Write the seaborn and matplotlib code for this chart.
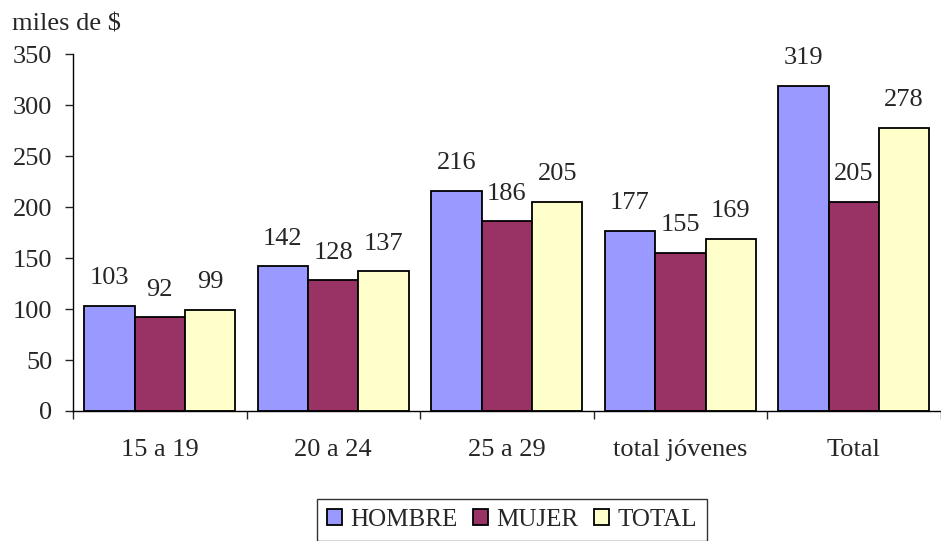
import matplotlib
matplotlib.use("Agg")
import matplotlib.pyplot as plt
import seaborn as sns
import pandas as pd
import numpy as np

categories = ["15 a 19", "20 a 24", "25 a 29", "total jóvenes", "Total"]
hombre = [103, 142, 216, 177, 319]
mujer = [92, 128, 186, 155, 205]
total = [99, 137, 205, 169, 278]
series = ["HOMBRE", "MUJER", "TOTAL"]
colors = ["#9999FF", "#993366", "#FFFFCC"]

df = pd.DataFrame({
    "cat": categories * 3,
    "serie": [s for s in series for _ in categories],
    "val": hombre + mujer + total,
})

sns.set_style("white")
plt.rcParams["font.family"] = ["Liberation Serif", "DejaVu Serif"]

fig = plt.figure(figsize=(9.41, 5.41), dpi=100)
ax = fig.add_axes([0.0776, 0.2403, 0.922, 0.6597])

sns.barplot(data=df, x="cat", y="val", hue="serie", order=categories,
            hue_order=series, palette=colors, saturation=1, ax=ax, width=0.87,
            edgecolor="black", linewidth=1.3, legend=True)

for cont in ax.containers:
    ax.bar_label(cont, padding=12, fontsize=19)

ax.set_ylim(0, 350)
ax.set_yticks(range(0, 351, 50))
ax.set_xlim(-0.5, len(categories) - 0.5)
ax.set_xlabel("")
ax.set_ylabel("")
ax.tick_params(axis="y", labelsize=19, length=6, direction="out", left=True, width=1, pad=9)
ax.tick_params(axis="x", which="major", labelsize=19, length=0, pad=20)
ax.set_xticks(np.arange(-0.5, len(categories), 1.0), minor=True)
ax.tick_params(axis="x", which="minor", length=6, direction="out", bottom=True, width=1)

for s in ["top", "right"]:
    ax.spines[s].set_visible(False)
ax.spines["left"].set_color("black")
ax.spines["bottom"].set_color("black")
ax.spines["left"].set_linewidth(1)
ax.spines["bottom"].set_linewidth(1)

handles, labels = ax.get_legend_handles_labels()
ax.get_legend().remove()
leg = fig.legend(handles, labels, loc="center", bbox_to_anchor=(0.544, 0.039),
                 ncol=3, fontsize=18, frameon=True, fancybox=False,
                 handlelength=0.6, handleheight=0.6, handletextpad=0.35,
                 columnspacing=0.6, borderpad=0.4, borderaxespad=0)
leg.get_frame().set_edgecolor("black")
leg.get_frame().set_linewidth(1)

fig.text(0.013, 0.955, "miles de $", fontsize=19, ha="left", va="center")

fig.savefig("out.png", dpi=100)
